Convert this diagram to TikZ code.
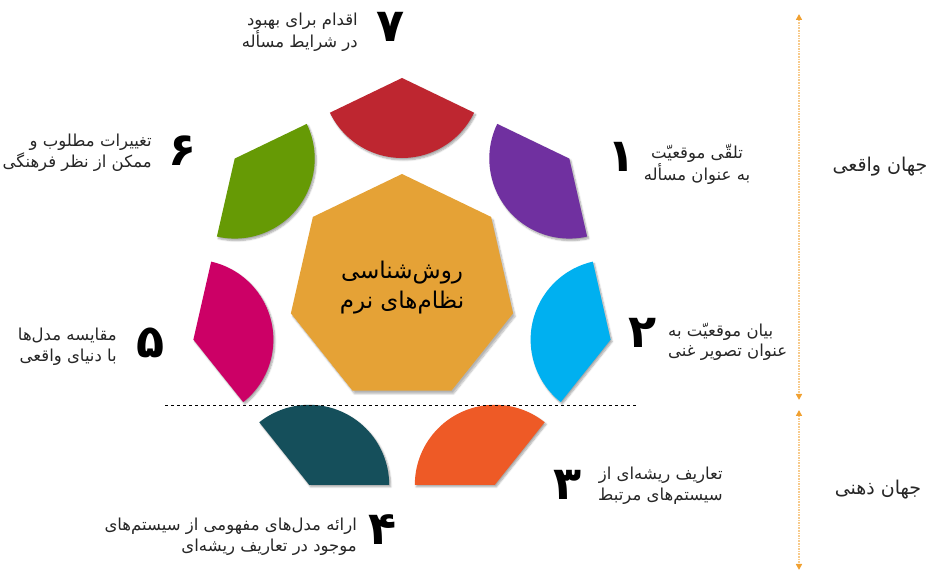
\documentclass[tikz,border=0pt]{standalone}
\usepackage{fontspec}
\newfontfamily\arabicfont[Script=Arabic]{DejaVu Sans}
\TeXXeTstate=1
\usetikzlibrary{shapes.geometric,arrows.meta,shadows.blur}
\definecolor{petalred}{HTML}{BE2630}
\definecolor{petalpurple}{HTML}{7030A0}
\definecolor{petalblue}{HTML}{00B0F0}
\definecolor{petalorange}{HTML}{EE5A26}
\definecolor{petalteal}{HTML}{154F5B}
\definecolor{petalmagenta}{HTML}{CC0066}
\definecolor{petalgreen}{HTML}{669A05}
\definecolor{hubgold}{HTML}{E5A236}
\definecolor{textgray}{HTML}{262626}
\definecolor{realmorange}{HTML}{F0A030}

\begin{document}
\begin{tikzpicture}[x=1pt,y=1pt,
    petal/.style={blur shadow={shadow xshift=1.5pt,shadow yshift=-2pt,shadow blur steps=6,shadow opacity=35}},
    digit/.style={font=\arabicfont\bfseries\fontsize{46}{46}\selectfont, text=black, inner sep=0pt},
    caption/.style={font=\arabicfont\fontsize{16.5}{20.5}\selectfont, text=textgray, align=right, inner sep=0pt},
    world/.style={font=\arabicfont\fontsize{19}{22}\selectfont, text=textgray, inner sep=0pt},
    realm/.style={draw=realmorange!55, densely dotted, line width=1.6pt,
      {Triangle[width=6pt,length=6pt,color=realmorange]}-{Triangle[width=6pt,length=6pt,color=realmorange]}}]
  \useasboundingbox (0,0) rectangle (930,572);
  \coordinate (O) at (402,280);
  \coordinate (v0) at ([shift={(O)}]90:214);
  \coordinate (v1) at ([shift={(O)}]38.57:214);
  \coordinate (v2) at ([shift={(O)}]-12.86:214);
  \coordinate (v3) at ([shift={(O)}]-64.29:214);
  \coordinate (v4) at ([shift={(O)}]-115.71:214);
  \coordinate (v5) at ([shift={(O)}]-167.14:214);
  \coordinate (v6) at ([shift={(O)}]141.43:214);
  % petals round the hub
  \fill[petal, petalred] (v0) -- ++(205.71:80) arc[start angle=205.71, end angle=334.29, radius=80] -- cycle;
  \fill[petal, petalpurple] (v1) -- ++(154.29:80) arc[start angle=154.29, end angle=282.86, radius=80] -- cycle;
  \fill[petal, petalblue] (v2) -- ++(102.86:80) arc[start angle=102.86, end angle=231.43, radius=80] -- cycle;
  \fill[petal, petalorange, yshift=-4pt] (v3) -- ++(51.43:80) arc[start angle=51.43, end angle=180, radius=80] -- cycle;
  \fill[petal, petalteal, yshift=-4pt] (v4) -- ++(0:80) arc[start angle=0, end angle=128.57, radius=80] -- cycle;
  \fill[petal, petalmagenta] (v5) -- ++(-51.43:80) arc[start angle=-51.43, end angle=77.14, radius=80] -- cycle;
  \fill[petal, petalgreen] (v6) -- ++(-102.86:80) arc[start angle=-102.86, end angle=25.71, radius=80] -- cycle;
  \node[regular polygon, regular polygon sides=7, minimum size=228pt, inner sep=0pt, fill=hubgold,
    blur shadow={shadow xshift=2pt,shadow yshift=-3pt,shadow blur steps=8,shadow opacity=30},
    font=\arabicfont\fontsize{23}{30}\selectfont, text=black, align=center] (hub) at (402,284)
    {\beginR روش‌شناسی\endR\\\beginR نظام‌های نرم\endR};
  % numbers and captions
  \node[digit] (n7) at (391,545) {۷};
  \node[caption, anchor=east] (t7) at (358,540) {\beginR اقدام برای بهبود\endR\\\beginR در شرایط مسأله\endR};
  \node[digit] (n1) at (622,415) {۱};
  \node[caption, align=center] (t1) at (697,408) {\beginR تلقّی موقعیّت\endR\\\beginR به عنوان مسأله\endR};
  \node[digit] (n2) at (643,239) {۲};
  \node[caption, anchor=west, align=left] (t2) at (668,230) {\beginR بیان موقعیّت به\endR\\\beginR عنوان تصویر غنی\endR};
  \node[digit] (n3) at (568,87) {۳};
  \node[caption, anchor=west] (t3) at (598,86) {\beginR تعاریف ریشه‌ای از\endR\\\beginR سیستم‌های مرتبط\endR};
  \node[digit] (n4) at (383,42) {۴};
  \node[caption, anchor=east] (t4) at (357,35) {\beginR ارائه مدل‌های مفهومی از سیستم‌های\endR\\\beginR موجود در تعاریف ریشه‌ای\endR};
  \node[digit] (n5) at (151,229) {۵};
  \node[caption, anchor=east] (t5) at (117,225) {\beginR مقایسه مدل‌ها\endR\\\beginR با دنیای واقعی\endR};
  \node[digit] (n6) at (183,421) {۶};
  \node[caption, anchor=east] (t6) at (152,419) {\beginR تغییرات مطلوب و\endR\\\beginR ممکن از نظر فرهنگی\endR};
  % the two worlds
  \coordinate (cutL) at (165,167);
  \coordinate (cutR) at (637,167);
  \draw[dashed, line width=0.6pt] (cutL) -- (cutR);
  \coordinate (realtop) at (799,558);
  \coordinate (realbot) at (799,172);
  \coordinate (mindtop) at (799,162);
  \coordinate (mindbot) at (799,2);
  \draw[realm] (realtop) -- (realbot);
  \draw[realm] (mindtop) -- (mindbot);
  \node[world] (real) at (880,405) {\beginR جهان واقعی\endR};
  \node[world] (mind) at (878,82) {\beginR جهان ذهنی\endR};
\end{tikzpicture}
\end{document}
